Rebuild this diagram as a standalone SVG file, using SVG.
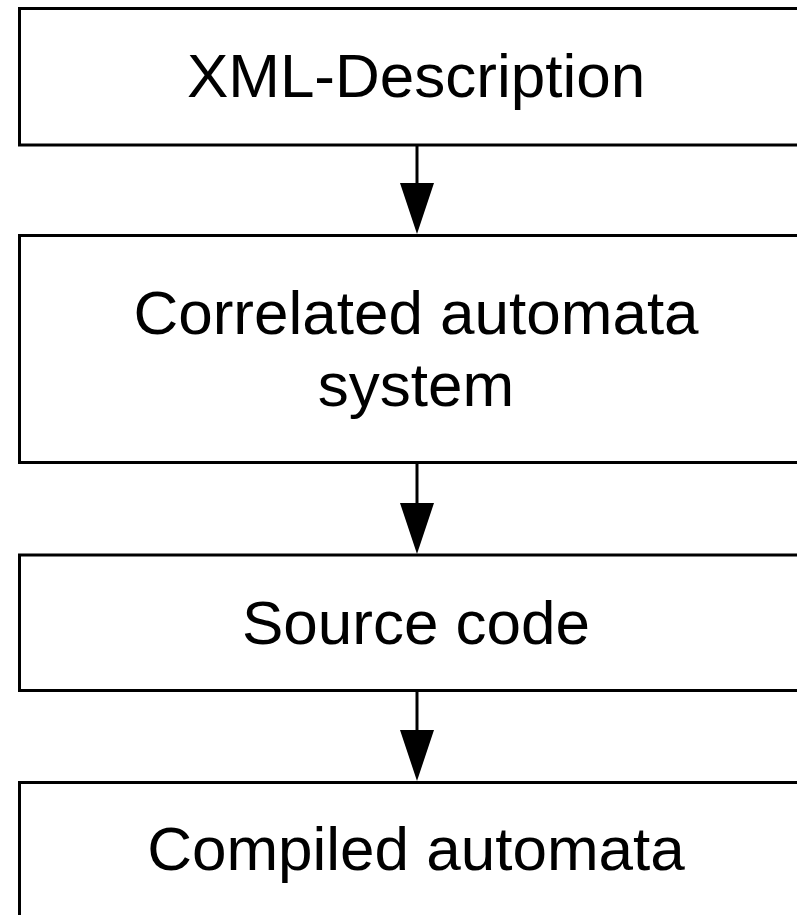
<svg xmlns="http://www.w3.org/2000/svg" width="797" height="915" viewBox="0 0 797 915">
<style>
.box{fill:#fff;stroke:#000;stroke-width:3}
.lbl{font-family:"Liberation Sans",Arial,sans-serif;font-size:62px;fill:#000;text-anchor:middle}
.edge{stroke:#000;stroke-width:3;fill:none}
.head{fill:#000;stroke:none}
</style>
<rect width="797" height="915" fill="#fff"/>
<g id="node-xml">
<rect class="box" x="19.5" y="8.5" width="800" height="136.5"/>
<text class="lbl" x="416" y="97">XML-Description</text>
</g>
<g id="node-correlated">
<rect class="box" x="19.5" y="235.5" width="800" height="227"/>
<text class="lbl" x="416" y="334">Correlated automata</text>
<text class="lbl" x="416" y="406">system</text>
</g>
<g id="node-source">
<rect class="box" x="19.5" y="555" width="800" height="135.5"/>
<text class="lbl" x="416" y="644">Source code</text>
</g>
<g id="node-compiled">
<rect class="box" x="19.5" y="782.5" width="800" height="160"/>
<text class="lbl" x="416" y="870">Compiled automata</text>
</g>
<g id="connectors">
<line class="edge" x1="417" y1="145" x2="417" y2="184"/>
<polygon class="head" points="400,183 434,183 417,234"/>
<line class="edge" x1="417" y1="462.5" x2="417" y2="504"/>
<polygon class="head" points="400,503 434,503 417,554"/>
<line class="edge" x1="417" y1="690.5" x2="417" y2="731"/>
<polygon class="head" points="400,730 434,730 417,781"/>
</g>
</svg>
